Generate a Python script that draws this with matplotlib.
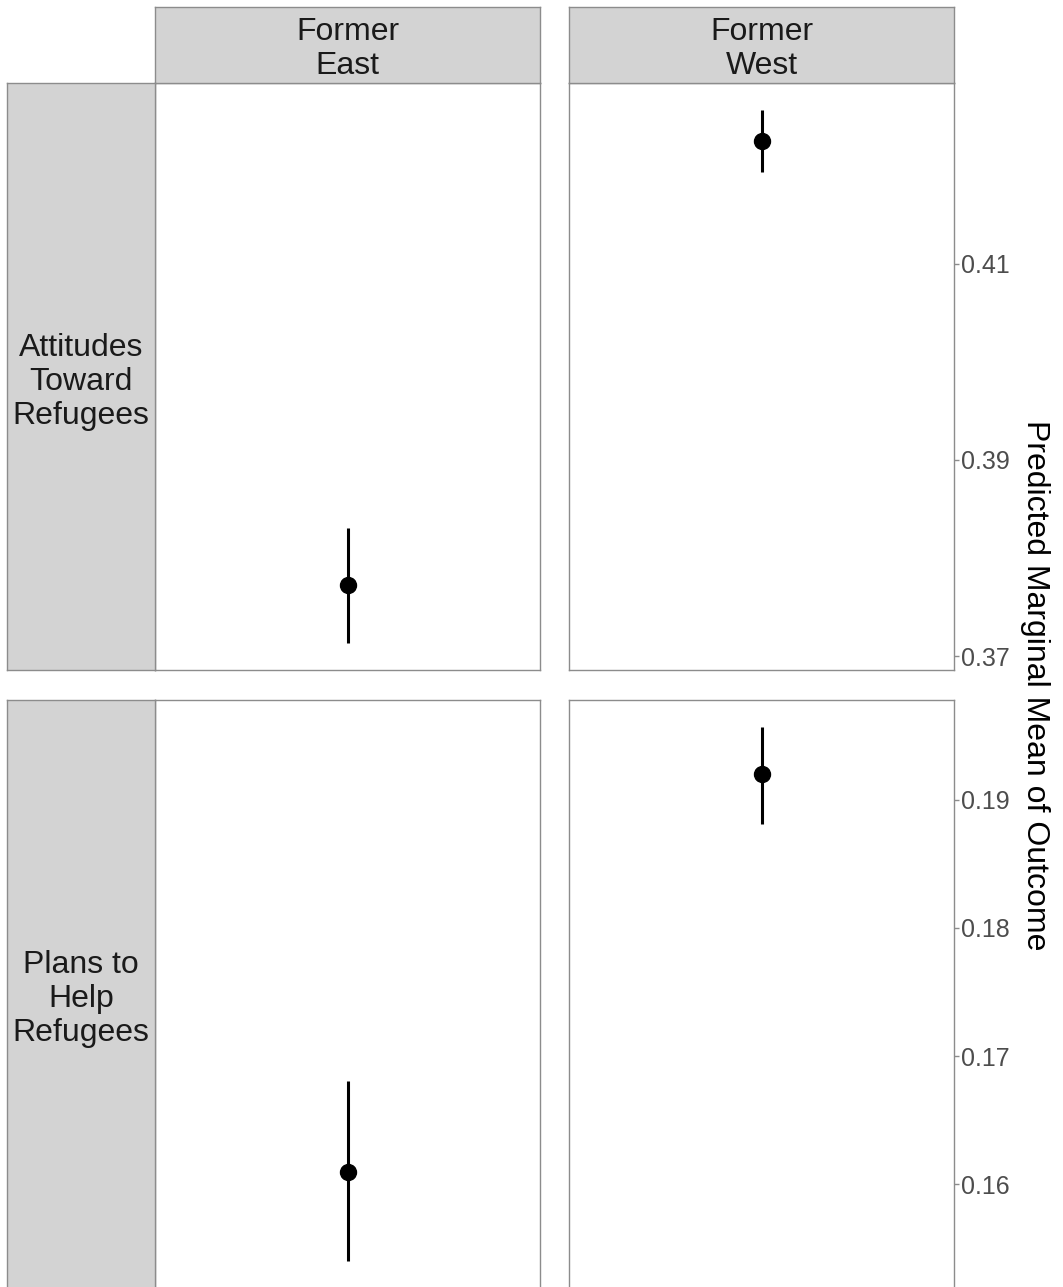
import matplotlib
matplotlib.use("Agg")
import matplotlib.pyplot as plt

plt.rcParams['font.family'] = ['Liberation Sans', 'DejaVu Sans']

regions = ["Former\nEast", "Former\nWest"]
outcomes = ["Attitudes\nToward\nRefugees", "Plans to\nHelp\nRefugees"]
# estimates[row][col]
estimates = [[0.3772, 0.4225], [0.1610, 0.1920]]
lower = [[0.3713, 0.4193], [0.1540, 0.1881]]
upper = [[0.3831, 0.4257], [0.1681, 0.1957]]
yticks = [[0.37, 0.39, 0.41], [0.16, 0.17, 0.18, 0.19]]
ylabel = "Predicted Marginal Mean of Outcome"

W, H = 1063, 1287
fig = plt.figure(figsize=(W / 100, H / 100), dpi=100)

border = '#8c8c8c'
strip_fc = '#d3d3d3'

def fx(px):
    return px / W

def fy(py):
    return 1 - py / H

col_x = [(155, 540), (569, 954)]
row_y = [(83, 670), (700, 1288)]

for r in range(2):
    lo = min(lower[r]); hi = max(upper[r])
    pad = (hi - lo) * 0.05
    ylim = (lo - pad, hi + pad)
    for c in range(2):
        x0, x1 = col_x[c]
        y0, y1 = row_y[r]
        ax = fig.add_axes([fx(x0), fy(y1), fx(x1 - x0), (y1 - y0) / H])
        ax.errorbar([0], [estimates[r][c]],
                    yerr=[[estimates[r][c] - lower[r][c]], [upper[r][c] - estimates[r][c]]],
                    fmt='o', color='black', ms=11.5, elinewidth=2.2, capsize=0)
        ax.set_xlim(-1, 1)
        ax.set_ylim(*ylim)
        ax.set_xticks([])
        ax.set_yticks(yticks[r])
        for s in ax.spines.values():
            s.set_color(border)
            s.set_linewidth(1.0)
        if c == 1:
            ax.yaxis.tick_right()
            ax.tick_params(axis='y', which='both', right=True, left=False,
                           length=3.5, width=1, color=border, labelsize=18,
                           labelcolor='#4d4d4d', pad=1.5)
            ax.set_yticklabels([f"{t:.2f}" for t in yticks[r]])
        else:
            ax.tick_params(axis='y', left=False, right=False,
                           labelleft=False, labelright=False)

# top strips
for c in range(2):
    x0, x1 = col_x[c]
    sax = fig.add_axes([fx(x0), fy(83), fx(x1 - x0), 76 / H])
    sax.set_facecolor(strip_fc)
    sax.set_xticks([]); sax.set_yticks([])
    for s in sax.spines.values():
        s.set_color(border); s.set_linewidth(1.0)
    sax.text(0.5, 0.45, regions[c], ha='center', va='center',
             fontsize=23, color='#1a1a1a', linespacing=1.17,
             transform=sax.transAxes)

# left strips
for r in range(2):
    y0, y1 = row_y[r]
    sax = fig.add_axes([fx(7), fy(y1), fx(148), (y1 - y0) / H])
    sax.set_facecolor(strip_fc)
    sax.set_xticks([]); sax.set_yticks([])
    for s in sax.spines.values():
        s.set_color(border); s.set_linewidth(1.0)
    sax.text(0.5, 0.491, outcomes[r], ha='center', va='center',
             fontsize=23, color='#1a1a1a', linespacing=1.18,
             transform=sax.transAxes)

fig.text(fx(1035), fy(685), ylabel, rotation=-90, ha='center', va='center',
         fontsize=23, color='black')

fig.savefig('out.png', dpi=100)
